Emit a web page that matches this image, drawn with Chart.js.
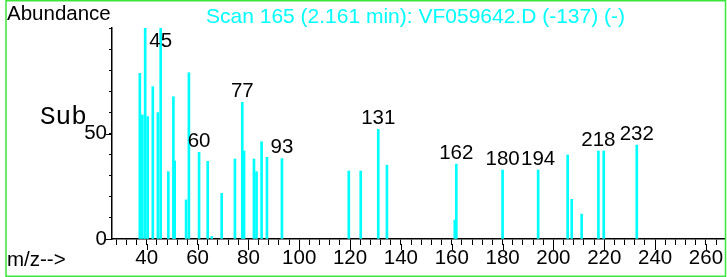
<!DOCTYPE html>
<html><head><meta charset="utf-8">
<script src="https://cdn.jsdelivr.net/npm/chart.js@4.4.1/dist/chart.umd.min.js"></script>
<style>html,body{margin:0;padding:0;background:#fff;overflow:hidden}canvas{display:block}</style>
</head><body>
<canvas id="c" width="727" height="277"></canvas>
<script>
// m/z positions of the peaks
const mz = [37.3, 38.3, 39.4, 40.4, 42.4, 44.4, 45.5, 48.5, 50.5, 51.0, 55.5, 56.6, 60.6, 64.0, 65.6, 69.5,
  74.7, 77.6, 78.3, 82.2, 83.2, 85.2, 87.3, 93.2, 119.5, 124.2, 131.1, 134.5, 161.2, 161.8, 180.0, 194.0,
  205.6, 207.2, 211.1, 217.7, 219.8, 232.8];
// relative abundance of each peak
const abundance = [78.5, 58.8, 100, 58, 72.2, 59.9, 100, 31.9, 67.4, 37, 18.5, 78.8, 41.1, 36.8, 1.2, 21.6,
  37.9, 64.8, 41.7, 37.9, 31.9, 46.1, 38.7, 38.1, 32.2, 32.2, 52, 35, 9, 35.5, 32.7, 32.7,
  39.8, 18.8, 11.8, 41.7, 41.7, 44.5];
// labelled peaks
const peakLabels = ['45', '60', '77', '93', '131', '162', '180', '194', '218', '232'];
// axis tick labels
const xMajorTicks = [40, 60, 80, 100, 120, 140, 160, 180, 200, 220, 240, 260];
const xMinorStep = 4;
const yLabelTicks = [0, 50];
const titleText = 'Scan 165 (2.161 min): VF059642.D (-137) (-)';
const yAxisTitle = 'Abundance';
const xAxisTitle = 'm/z-->';
const subText = 'Sub';

const SANS = '"Liberation Sans", Arial, sans-serif';
const MONO = '"Liberation Mono", "Courier New", monospace';

const decor = {
  id: 'decor',
  afterDatasetsDraw(chart) {
    const ctx = chart.ctx, xs = chart.scales.x, ys = chart.scales.y, top = chart.chartArea.top;
    ctx.save();
    ctx.fillStyle = '#000';
    ctx.font = '20.5px ' + SANS;
    ctx.textAlign = 'center';
    ctx.textBaseline = 'alphabetic';
    peakLabels.forEach(lbl => {
      const target = Number(lbl);
      let best = 0;
      mz.forEach((m, i) => { if (Math.abs(m - target) < Math.abs(mz[best] - target)) best = i; });
      const px = xs.getPixelForValue(mz[best]);
      const py = ys.getPixelForValue(abundance[best]);
      const base = Math.max(py - 5.5, top + 18.7);
      ctx.fillText(lbl, px, base);
    });
    ctx.restore();
  },
  afterDraw(chart) {
    const ctx = chart.ctx, xs = chart.scales.x, ys = chart.scales.y, ca = chart.chartArea;
    ctx.save();
    // longer major ticks on the x axis
    ctx.strokeStyle = '#000';
    ctx.lineWidth = 1;
    xMajorTicks.forEach(v => {
      const px = Math.round(xs.getPixelForValue(v)) + 0.5;
      ctx.beginPath(); ctx.moveTo(px, ca.bottom + 5); ctx.lineTo(px, ca.bottom + 11); ctx.stroke();
    });
    yLabelTicks.forEach(v => {
      const py = Math.round(ys.getPixelForValue(v)) + 0.5;
      ctx.beginPath(); ctx.moveTo(ca.left - 6, py); ctx.lineTo(ca.left, py); ctx.stroke();
    });
    // texts
    ctx.fillStyle = '#000';
    ctx.textAlign = 'left';
    ctx.textBaseline = 'alphabetic';
    ctx.font = '20.5px ' + SANS;
    ctx.fillText(yAxisTitle, 7, 20);
    ctx.fillText(xAxisTitle, 7, 266);
    ctx.font = '26px ' + MONO;
    ctx.fillText(subText, 40, 123.5);
    ctx.fillStyle = '#00ffff';
    ctx.font = '21px ' + SANS;
    ctx.fillText(titleText, 206, 22.5);
    // frame
    ctx.strokeStyle = '#3de63d';
    ctx.lineWidth = 1.5;
    ctx.strokeRect(6, 0.75, 719.5, 275.5);
    ctx.restore();
  }
};

new Chart(document.getElementById('c'), {
  type: 'bar',
  data: {
    datasets: [{
      data: mz.map((m, i) => ({ x: m, y: abundance[i] })),
      backgroundColor: '#00ffff',
      borderWidth: 0,
      barThickness: 2
    }]
  },
  options: {
    responsive: false,
    animation: false,
    devicePixelRatio: 1,
    layout: { padding: { left: 0, top: 28, right: 2, bottom: 0 } },
    plugins: { legend: { display: false }, tooltip: { enabled: false }, title: { display: false } },
    scales: {
      x: {
        type: 'linear',
        min: 26.35, max: 267.5,
        offset: false,
        afterFit(s) { s.height = 38; },
        afterBuildTicks(s) {
          const t = [];
          for (let v = 28; v <= 264; v += xMinorStep) t.push({ value: v });
          s.ticks = t;
        },
        grid: { display: true, offset: false, drawOnChartArea: false, drawTicks: true, tickLength: 6, color: '#000', tickColor: '#000', lineWidth: 1 },
        border: { display: true, color: '#000', width: 1.5 },
        ticks: {
          autoSkip: false, maxRotation: 0, minRotation: 0, padding: 1,
          color: '#000', font: { family: SANS, size: 20.5 },
          callback: v => xMajorTicks.includes(v) ? String(v) : ''
        }
      },
      y: {
        min: 0, max: 100,
        afterFit(s) { s.width = 112; },
        grid: { display: true, drawOnChartArea: false, drawTicks: true, tickLength: 3, color: '#000', tickColor: '#000', lineWidth: 1 },
        border: { display: true, color: '#000', width: 1.5 },
        ticks: {
          stepSize: 10, autoSkip: false, padding: 2,
          color: '#000', font: { family: SANS, size: 20.5 },
          callback: v => yLabelTicks.includes(v) ? String(v) : ''
        }
      }
    }
  },
  plugins: [decor]
});
</script>
</body></html>
